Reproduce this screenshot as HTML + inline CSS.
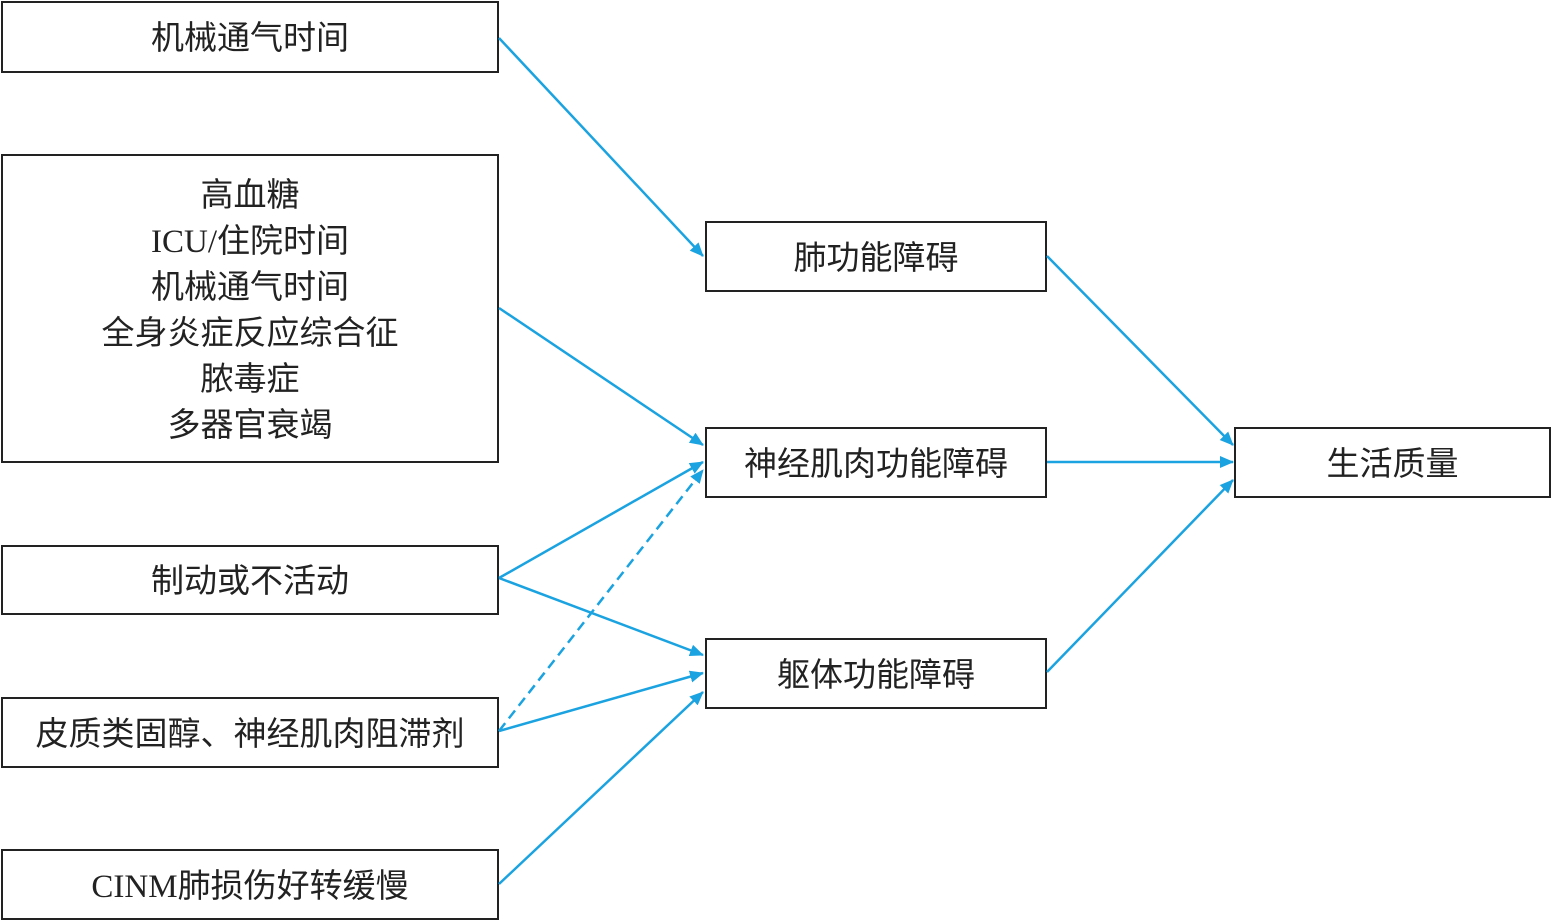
<!DOCTYPE html>
<html><head><meta charset="utf-8"><style>
body{margin:0;background:#fff;width:1551px;height:921px;position:relative;overflow:hidden;font-family:"Liberation Serif","Noto Sans CJK SC",sans-serif;color:#222}
.b{position:absolute;box-sizing:border-box;border:2px solid #222;display:flex;align-items:center;justify-content:center;text-align:center;font-size:33px;line-height:46px;padding-top:4px}
svg{position:absolute;left:0;top:0}
</style></head><body>
<div class="b" style="left:1px;top:1px;width:498px;height:72px">机械通气时间</div>
<div class="b" style="left:1px;top:154px;width:498px;height:309px"><div>高血糖<br>ICU/住院时间<br>机械通气时间<br>全身炎症反应综合征<br>脓毒症<br>多器官衰竭</div></div>
<div class="b" style="left:1px;top:545px;width:498px;height:70px">制动或不活动</div>
<div class="b" style="left:1px;top:697px;width:498px;height:71px">皮质类固醇、神经肌肉阻滞剂</div>
<div class="b" style="left:1px;top:849px;width:498px;height:71px">CINM肺损伤好转缓慢</div>
<div class="b" style="left:705px;top:221px;width:342px;height:71px">肺功能障碍</div>
<div class="b" style="left:705px;top:427px;width:342px;height:71px">神经肌肉功能障碍</div>
<div class="b" style="left:705px;top:638px;width:342px;height:71px">躯体功能障碍</div>
<div class="b" style="left:1234px;top:427px;width:317px;height:71px">生活质量</div>
<svg width="1551" height="921">
<defs><marker id="a" markerWidth="14" markerHeight="12" refX="13" refY="6" orient="auto" markerUnits="userSpaceOnUse"><path d="M0,0 L14,6 L0,12 Z" fill="#1aa3e0"/></marker></defs>
<g stroke="#1aa3e0" stroke-width="2.5" fill="none" marker-end="url(#a)">
<line x1="499" y1="38" x2="703" y2="256"/>
<line x1="499" y1="308" x2="703" y2="445"/>
<line x1="499" y1="578" x2="703" y2="462"/>
<line x1="499" y1="578" x2="703" y2="655"/>
<line x1="499" y1="731" x2="703" y2="470" stroke-dasharray="10,6"/>
<line x1="499" y1="731" x2="703" y2="673"/>
<line x1="499" y1="884" x2="703" y2="692"/>
<line x1="1047" y1="256" x2="1233" y2="445"/>
<line x1="1047" y1="462" x2="1233" y2="462"/>
<line x1="1047" y1="672" x2="1233" y2="480"/>
</g></svg>
</body></html>
